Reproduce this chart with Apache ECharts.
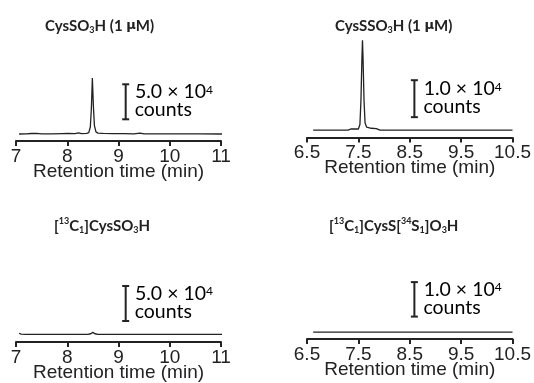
<!DOCTYPE html>
<html>
<head>
<meta charset="utf-8">
<script src="https://cdn.jsdelivr.net/npm/echarts@6/dist/echarts.min.js"></script>
<style>
  html, body { margin: 0; padding: 0; background: #fff; }
  #chart { width: 534px; height: 383px; }
</style>
</head>
<body>
<div id="chart"></div>
<script>
// chromatogram traces, [retention time (min), counts]
const cysSO3H = [
  [7.06, 0], [7.2, 200], [7.3, 700], [7.4, 900], [7.5, 300], [7.7, 200],
  [7.9, 600], [8.0, 800], [8.15, 500], [8.22, 1500], [8.28, 600], [8.38, 800],
  [8.42, 2000], [8.45, 10000], [8.47, 35000], [8.49, 80000], [8.51, 40000],
  [8.53, 12000], [8.56, 3000], [8.6, 1200], [8.7, 800], [8.9, 500], [9.1, 400],
  [9.3, 300], [9.42, 1200], [9.5, 300], [9.8, 200], [10.2, 100], [10.6, 100], [11.02, 0]
];
const cysSSO3H = [
  [6.62, 0], [7.0, 0], [7.3, 0], [7.35, 300], [7.5, 300], [7.53, 1500],
  [7.55, 8000], [7.57, 20000], [7.58, 24300], [7.59, 20000], [7.61, 8000],
  [7.63, 2000], [7.66, 800], [7.75, 500], [7.85, 400], [7.92, 0], [8.5, 0],
  [9.5, 0], [10.5, 0]
];
const cysSO3H13C = [
  [7.06, 1500], [7.1, 200], [7.2, 0], [8.0, 0], [8.4, 0], [8.46, 800],
  [8.5, 2800], [8.54, 800], [8.6, 0], [9.5, 0], [11.02, 0]
];
const cysSS34O3H13C = [[6.62, 0], [7.5, 0], [8.5, 0], [9.5, 0], [10.5, 0]];

// x ranges
const xMin = [7, 6.5, 7, 6.5];
const xMax = [11, 10.5, 11, 10.5];

// scale bars: [x, from, to] in counts, and their labels
const scaleBars = [
  [9.14, 21000, 71000],
  [8.59, 3500, 13500],
  [9.14, 19000, 69000],
  [8.59, 4500, 14500]
];
const scaleLabels = ['5.0 × 10', '1.0 × 10', '5.0 × 10', '1.0 × 10'];

const titles = [
  '{b|CysSO}{sub|3}{b|H (1 }{mu|μ}{b|M)}',
  '{b|CysSSO}{sub|3}{b|H (1 }{mu|μ}{b|M)}',
  '{b|[}{sup|13}{b|C}{sub|1}{b|]CysSO}{sub|3}{b|H}',
  '{b|[}{sup|13}{b|C}{sub|1}{b|]CysS[}{sup|34}{b|S}{sub|1}{b|]O}{sub|3}{b|H}'
];
const traces = [cysSO3H, cysSSO3H, cysSO3H13C, cysSS34O3H13C];

const ink = '#222';
const titleRich = {
  b: { fontFamily: 'Lato', fontWeight: 'bold', fontSize: 15, color: ink, lineHeight: 18 },
  sub: { fontFamily: 'Lato', fontWeight: 'bold', fontSize: 9, color: ink, lineHeight: 10, verticalAlign: 'bottom' },
  sup: { fontFamily: 'Lato', fontWeight: 'bold', fontSize: 9, color: ink, lineHeight: 10, verticalAlign: 'top' },
  mu: { fontFamily: 'DejaVu Sans', fontSize: 13, color: ink, lineHeight: 18 }
};

// grid placement
const grids = [
  { left: 16, top: 71, width: 205, height: 70 },
  { left: 307, top: 34, width: 206, height: 103.5 },
  { left: 16, top: 272, width: 205, height: 70 },
  { left: 307, top: 239, width: 206, height: 100 }
];
const yRange = [[-10000, 90000], [-2000, 26000], [-11000, 89000], [-2000, 27000]];
const titlePos = [[45, 17], [335, 17], [54, 217], [329, 217]];

const chart = echarts.init(document.getElementById('chart'));

const xAxes = grids.map((g, i) => ({
  gridIndex: i,
  type: 'value',
  min: xMin[i],
  max: xMax[i],
  interval: 1,
  name: 'Retention time (min)',
  nameLocation: 'middle',
  nameGap: 21,
  nameMoveOverlap: false,
  nameTextStyle: { fontFamily: 'Liberation Sans', fontSize: 19, color: ink },
  axisLine: { onZero: false, lineStyle: { color: ink, width: 2 } },
  axisTick: { length: 5, lineStyle: { color: ink, width: 2 } },
  axisLabel: { fontFamily: 'Liberation Sans', fontSize: 19, color: ink, margin: 6 },
  splitLine: { show: false }
}));

const yAxes = grids.map((g, i) => ({
  gridIndex: i,
  type: 'value',
  min: yRange[i][0],
  max: yRange[i][1],
  show: false,
  splitLine: { show: false }
}));

const lineSeries = traces.map((d, i) => ({
  type: 'line',
  xAxisIndex: i,
  yAxisIndex: i,
  data: d,
  showSymbol: false,
  lineStyle: { color: ink, width: 1.3 },
  animation: false
}));

// the "I" shaped scale bar with its label
const barSeries = scaleBars.map((b, i) => ({
  type: 'custom',
  xAxisIndex: i,
  yAxisIndex: i,
  data: [b],
  clip: false,
  animation: false,
  renderItem: (params, api) => {
    const p0 = api.coord([api.value(0), api.value(1)]);
    const p1 = api.coord([api.value(0), api.value(2)]);
    const cap = 3.5;
    const st = { stroke: ink, lineWidth: 2 };
    return {
      type: 'group',
      children: [
        { type: 'line', shape: { x1: p0[0], y1: p0[1], x2: p1[0], y2: p1[1] }, style: st },
        { type: 'line', shape: { x1: p0[0] - cap, y1: p0[1], x2: p0[0] + cap, y2: p0[1] }, style: st },
        { type: 'line', shape: { x1: p1[0] - cap, y1: p1[1], x2: p1[0] + cap, y2: p1[1] }, style: st },
        {
          type: 'text',
          x: p0[0] + 9,
          y: (p0[1] + p1[1]) / 2 - 1,
          style: {
            text: '{g| }{a1|' + scaleLabels[i] + '}{s|4}\n{a|counts}',
            verticalAlign: 'middle',
            align: 'left',
            rich: {
              g: { fontSize: 1, lineHeight: 18 },
              a1: { fontFamily: 'Lato', fontSize: 19.5, color: ink, lineHeight: 16, verticalAlign: 'bottom' },
              a: { fontFamily: 'Lato', fontSize: 19.5, color: ink, lineHeight: 16 },
              s: { fontFamily: 'Lato', fontSize: 12, color: ink, lineHeight: 10, verticalAlign: 'top' }
            }
          }
        }
      ]
    };
  }
}));

chart.setOption({
  animation: false,
  title: titles.map((t, i) => ({
    text: t,
    left: titlePos[i][0],
    top: titlePos[i][1],
    padding: 0,
    textStyle: { rich: titleRich }
  })),
  grid: grids,
  xAxis: xAxes,
  yAxis: yAxes,
  series: lineSeries.concat(barSeries)
});
</script>
</body>
</html>
